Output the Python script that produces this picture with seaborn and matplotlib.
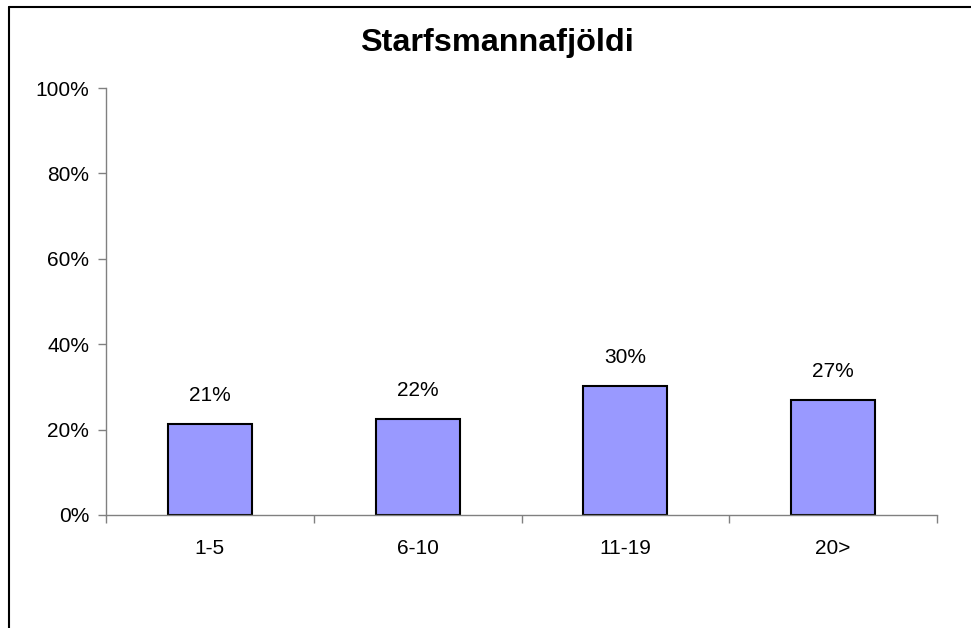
import matplotlib
matplotlib.use("Agg")
import matplotlib.pyplot as plt
import seaborn as sns
import pandas as pd
from matplotlib.lines import Line2D

categories = ["1-5", "6-10", "11-19", "20>"]
values = [0.213, 0.224, 0.302, 0.269]
value_labels = ["21%", "22%", "30%", "27%"]
yticks = [0, 0.2, 0.4, 0.6, 0.8, 1.0]
ytick_labels = ["0%", "20%", "40%", "60%", "80%", "100%"]
title = "Starfsmannafjöldi"

sns.set_theme(style="white")
plt.rcParams['font.family'] = ['Liberation Sans', 'DejaVu Sans']

df = pd.DataFrame({"cat": categories, "val": values})

fig = plt.figure(figsize=(9.71, 6.28), dpi=100)
ax = fig.add_axes([106/971, 1-515/628, (937-106)/971, (515-88)/628])

sns.barplot(data=df, x="cat", y="val", ax=ax, color="#9999FF", width=0.405,
            edgecolor="black", linewidth=1.5, saturation=1)

ax.set_ylim(0, 1.0)
ax.set_xlim(-0.5, len(categories) - 0.5)
ax.set_yticks(yticks)
ax.set_yticklabels(ytick_labels, fontsize=15, color="black")
ax.set_xticks(range(len(categories)))
ax.set_xticklabels(categories, fontsize=15, color="black")
ax.set_xticks([i - 0.5 for i in range(len(categories) + 1)], minor=True)
ax.tick_params(axis="x", which="major", length=0, pad=17)
ax.tick_params(axis="x", which="minor", length=6, width=1, color="#808080", direction="out", bottom=True)
ax.tick_params(axis="y", which="major", length=6, width=1, color="#808080", direction="out", left=True, pad=6)
ax.set_xlabel("")
ax.set_ylabel("")

for s in ["top", "right"]:
    ax.spines[s].set_visible(False)
for s in ["left", "bottom"]:
    ax.spines[s].set_color("#808080")
    ax.spines[s].set_linewidth(1)

for i, (v, lab) in enumerate(zip(values, value_labels)):
    ax.annotate(lab, (i, v), xytext=(0, 14), textcoords="offset points",
                ha="center", va="bottom", fontsize=15, color="black")

fig.text(497/971, 1 - 43/628, title, ha="center", va="center", fontsize=23.3,
         fontweight="bold", color="black")

# figure border (left and top)
fig.add_artist(Line2D([8.5/971, 8.5/971], [0, 1 - 7/628], transform=fig.transFigure, color="black", lw=1.5))
fig.add_artist(Line2D([8.5/971, 1], [1 - 7/628, 1 - 7/628], transform=fig.transFigure, color="black", lw=1.5))

fig.savefig("out.png", dpi=100)
